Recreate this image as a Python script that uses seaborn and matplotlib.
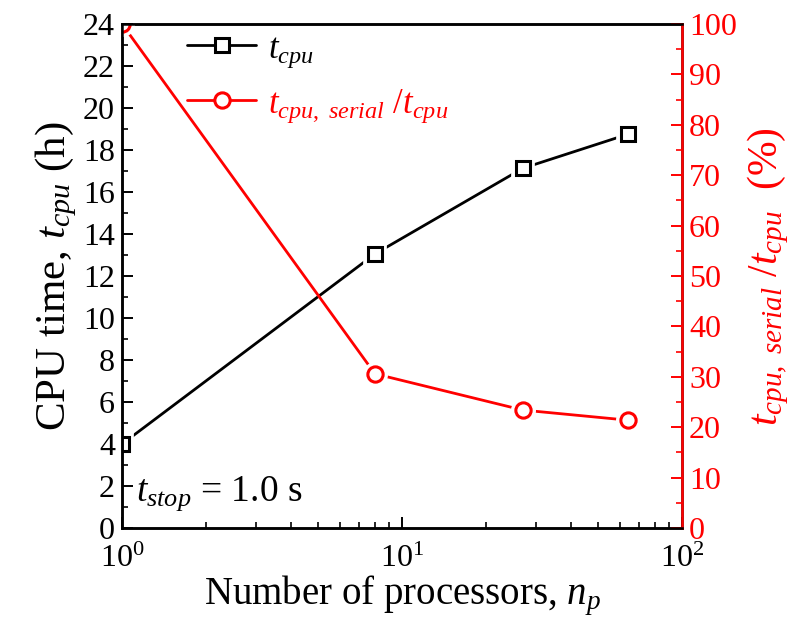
import numpy as np
import matplotlib
matplotlib.use('Agg')
import matplotlib.pyplot as plt
import seaborn as sns
from matplotlib.lines import Line2D
from matplotlib.ticker import MultipleLocator, LogLocator, NullFormatter

# data
n_proc = [1, 8, 27, 64]
t_cpu = [4.0, 13.05, 17.13, 18.75]
ratio = [100.0, 30.6, 23.4, 21.4]

sns.set_style('ticks')
plt.rcParams['font.family'] = ['Liberation Serif', 'DejaVu Serif']
plt.rcParams['mathtext.fontset'] = 'custom'
plt.rcParams['mathtext.rm'] = 'Liberation Serif'
plt.rcParams['mathtext.it'] = 'Liberation Serif:italic'
plt.rcParams['mathtext.bf'] = 'Liberation Serif:bold'
for k in ['text.color', 'axes.labelcolor', 'xtick.color', 'ytick.color', 'axes.edgecolor']:
    plt.rcParams[k] = 'black'

fig = plt.figure(figsize=(7.94, 6.39), dpi=100)
ax = fig.add_axes([0.1537, 0.1737, 0.7053, 0.7887])
ax2 = ax.twinx()


def draw(axis, x, y, color, marker, ms):
    # line, then a white halo, then the hollow marker (gap between line and marker)
    sns.lineplot(x=x, y=y, ax=axis, color=color, lw=2, legend=False)
    axis.plot(x, y, ls='', marker=marker, ms=ms, mfc='white', mec='white', mew=7)
    axis.plot(x, y, ls='', marker=marker, ms=ms, mfc='white', mec=color, mew=2.2)


draw(ax, n_proc, t_cpu, 'black', 's', 10)
draw(ax2, n_proc, ratio, 'red', 'o', 11)

ax.set_xscale('log')
ax.set_xlim(1, 100)
ax.set_ylim(0, 24)
ax2.set_ylim(0, 100)
ax.yaxis.set_major_locator(MultipleLocator(2))
ax.yaxis.set_minor_locator(MultipleLocator(1))
ax2.yaxis.set_major_locator(MultipleLocator(10))
ax2.yaxis.set_minor_locator(MultipleLocator(5))
ax.xaxis.set_major_locator(LogLocator(base=10))
ax.xaxis.set_minor_locator(LogLocator(base=10, subs=np.arange(2, 10)))
ax.xaxis.set_minor_formatter(NullFormatter())

ax.tick_params(axis='both', which='major', direction='in', length=8, width=1.4,
               labelsize=23, pad=5)
ax.tick_params(axis='both', which='minor', direction='in', length=4.5, width=1.2)
ax.tick_params(axis='x', which='major', pad=12)
ax2.tick_params(axis='y', which='major', direction='in', length=8, width=1.4,
                labelsize=23, colors='red', pad=5)
ax2.tick_params(axis='y', which='minor', direction='in', length=4.5, width=1.2,
                colors='red')

for sp in ax.spines.values():
    sp.set_linewidth(1.8)
for sp in ax2.spines.values():
    sp.set_linewidth(1.8)
ax2.spines['right'].set_color('red')

ax.set_xlabel('Number of processors, $n_p$', fontsize=28, labelpad=0)
ax.set_ylabel('CPU time, $t_{cpu}$ (h)', fontsize=31, labelpad=3)
ax2.set_ylabel('$t_{cpu,\\ serial}\\ /t_{cpu}$  (%)', fontsize=30, color='red',
               labelpad=6)

ax.text(1.12, 0.7, '$t_{stop}$ = 1.0 s', fontsize=27, ha='left', va='bottom')

handles = [
    Line2D([], [], color='black', lw=2, marker='s', ms=10, mfc='white', mec='black', mew=2.2),
    Line2D([], [], color='red', lw=2, marker='o', ms=11, mfc='white', mec='red', mew=2.2),
]
labels = ['$t_{cpu}$', '$t_{cpu,\\ serial}\\ /t_{cpu}$']
leg = ax2.legend(handles, labels, loc='upper left', bbox_to_anchor=(0.06, 1.045),
                 frameon=False, fontsize=25, handlelength=2.0, labelspacing=0.5,
                 handletextpad=0.35)
for txt, c in zip(leg.get_texts(), ['black', 'red']):
    txt.set_color(c)

fig.savefig('out.png', dpi=100)
